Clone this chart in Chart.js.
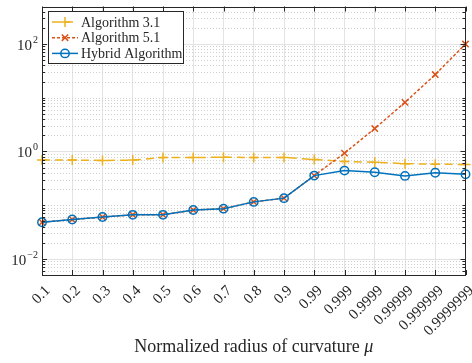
<!DOCTYPE html>
<html>
<head>
<meta charset="utf-8">
<script src="https://cdn.jsdelivr.net/npm/chart.js@4"></script>
<style>
  html, body { margin: 0; padding: 0; background: #fff; }
  #wrap { width: 472px; height: 363px; }
</style>
</head>
<body>
<div id="wrap"><canvas id="chart"></canvas></div>
<script>
const radii = ['0.1', '0.2', '0.3', '0.4', '0.5', '0.6', '0.7', '0.8', '0.9',
  '0.99', '0.999', '0.9999', '0.99999', '0.999999', '0.9999999'];
const alg31 = [0.69, 0.69, 0.68, 0.69, 0.77, 0.77, 0.78, 0.77, 0.77, 0.71, 0.65, 0.63, 0.59, 0.58, 0.57];
const alg51 = [0.048, 0.054, 0.060, 0.066, 0.066, 0.081, 0.086, 0.115, 0.135, 0.355, 0.93, 2.67, 8.2, 27, 100];
const hybrid = [0.048, 0.054, 0.060, 0.066, 0.066, 0.081, 0.086, 0.115, 0.135, 0.355, 0.44, 0.41, 0.35, 0.40, 0.375];
const yMajor = [1e-2, 1e0, 1e2];
const yMin = 0.005;
const yMax = 500;

const AX = '#262626';
const SERIF = '"Liberation Serif", "DejaVu Serif", serif';

// box, inward ticks, minor log grid, y labels, x title and legend
const matlabAxes = {
  id: 'matlabAxes',
  beforeDatasetsDraw(chart) {
    const { ctx, chartArea: a, scales: { y } } = chart;
    ctx.save();
    ctx.lineWidth = 1;
    for (let e = -3; e <= 2; e++) {
      for (let k = 1; k <= 9; k++) {
        const v = k * Math.pow(10, e);
        if (v < yMin || v > yMax) continue;
        const py = Math.round(y.getPixelForValue(v)) + 0.5;
        const major = yMajor.some(m => Math.abs(m - v) / m < 1e-9);
        ctx.strokeStyle = major ? '#e3e3e3' : '#cfcfcf';
        ctx.setLineDash(major ? [] : [1, 2]);
        ctx.beginPath();
        ctx.moveTo(a.left, py);
        ctx.lineTo(a.right, py);
        ctx.stroke();
      }
    }
    ctx.restore();
  },
  afterDraw(chart) {
    const { ctx, chartArea: a, scales: { x, y } } = chart;
    ctx.save();
    ctx.strokeStyle = AX;
    ctx.lineWidth = 1;
    ctx.setLineDash([]);
    ctx.strokeRect(Math.round(a.left) + 0.5, Math.round(a.top) + 0.5,
      Math.round(a.right - a.left) - 1, Math.round(a.bottom - a.top) - 1);

    // x ticks, top and bottom
    ctx.beginPath();
    radii.forEach((_, i) => {
      const px = Math.round(x.getPixelForValue(i)) + 0.5;
      ctx.moveTo(px, a.bottom); ctx.lineTo(px, a.bottom - 5);
      ctx.moveTo(px, a.top); ctx.lineTo(px, a.top + 5);
    });
    // y ticks, left and right
    for (let e = -3; e <= 2; e++) {
      for (let k = 1; k <= 9; k++) {
        const v = k * Math.pow(10, e);
        if (v < yMin || v > yMax) continue;
        const py = Math.round(y.getPixelForValue(v)) + 0.5;
        const len = yMajor.some(m => Math.abs(m - v) / m < 1e-9) ? 5 : 3;
        ctx.moveTo(a.left, py); ctx.lineTo(a.left + len, py);
        ctx.moveTo(a.right, py); ctx.lineTo(a.right - len, py);
      }
    }
    ctx.stroke();

    // y labels as 10^n
    ctx.fillStyle = AX;
    ctx.textBaseline = 'alphabetic';
    yMajor.forEach(v => {
      const py = y.getPixelForValue(v);
      const ex = String(Math.round(Math.log10(v))).replace('-', '\u2212');
      ctx.font = '10px ' + SERIF;
      const ew = ctx.measureText(ex).width;
      const right = a.left - 4;
      ctx.textAlign = 'right';
      ctx.fillText(ex, right, py - 1);
      ctx.font = '15px ' + SERIF;
      ctx.fillText('10', right - ew - 1, py + 6);
    });

    // x axis title with italic mu
    const ty = 352;
    ctx.font = '18px ' + SERIF;
    const t1 = 'Normalized radius of curvature ';
    const w1 = ctx.measureText(t1).width;
    ctx.font = 'italic 18px ' + SERIF;
    const w2 = ctx.measureText('\u03bc').width;
    const tx = (a.left + a.right) / 2 - (w1 + w2) / 2;
    ctx.textAlign = 'left';
    ctx.font = '18px ' + SERIF;
    ctx.fillText(t1, tx, ty);
    ctx.font = 'italic 18px ' + SERIF;
    ctx.fillText('\u03bc', tx + w1, ty);

    // legend
    const lx = 48, ly = 11, lw = 135, lh = 52;
    ctx.fillStyle = '#fff';
    ctx.fillRect(lx, ly, lw, lh);
    ctx.strokeStyle = AX;
    ctx.strokeRect(lx + 0.5, ly + 0.5, lw, lh);
    [0, 1, 2].forEach(r => {
      const ds = chart.data.datasets[r];
      const cy = ly + 11 + r * 15.7;
      ctx.strokeStyle = ds.borderColor;
      ctx.lineWidth = ds.borderWidth;
      ctx.setLineDash(ds.borderDash || []);
      ctx.beginPath();
      ctx.moveTo(lx + 4, cy); ctx.lineTo(lx + 30, cy);
      ctx.stroke();
      ctx.setLineDash([]);
      ctx.fillStyle = 'rgba(0,0,0,0)';
      ctx.strokeStyle = ds.pointBorderColor;
      Chart.helpers.drawPoint(ctx, {
        pointStyle: ds.pointStyle, radius: ds.pointRadius, rotation: 0,
        borderWidth: ds.pointBorderWidth
      }, lx + 17, cy);
      ctx.fillStyle = AX;
      ctx.font = '14px ' + SERIF;
      ctx.textAlign = 'left';
      ctx.textBaseline = 'middle';
      ctx.fillText(ds.label, lx + 33, cy + 1);
    });
    ctx.restore();
  }
};

new Chart(document.getElementById('chart'), {
  type: 'line',
  data: {
    labels: radii,
    datasets: [
      {
        label: 'Algorithm 3.1', data: alg31, order: 3,
        borderColor: '#EDB120', borderWidth: 1.5, borderDash: [8, 5],
        pointStyle: 'cross', pointRadius: 5, pointBorderWidth: 1.5,
        pointBackgroundColor: 'transparent', pointBorderColor: '#EDB120'
      },
      {
        label: 'Algorithm 5.1', data: alg51, order: 2,
        borderColor: '#D95319', borderWidth: 1.5, borderDash: [3, 2],
        pointStyle: 'crossRot', pointRadius: 4.5, pointBorderWidth: 1.5,
        pointBackgroundColor: 'transparent', pointBorderColor: '#D95319'
      },
      {
        label: 'Hybrid Algorithm', data: hybrid, order: 1,
        borderColor: '#0072BD', borderWidth: 1.5,
        pointStyle: 'circle', pointRadius: 4.2, pointBorderWidth: 1.5,
        pointBackgroundColor: 'transparent', pointBorderColor: '#0072BD'
      }
    ]
  },
  options: {
    responsive: true,
    maintainAspectRatio: false,
    animation: false,
    layout: { padding: { top: 5, right: 3, left: 0, bottom: 0 } },
    plugins: { legend: { display: false }, tooltip: { enabled: false } },
    elements: { line: { tension: 0 } },
    scales: {
      x: {
        type: 'category',
        offset: false,
        grid: { color: '#e3e3e3', drawTicks: false },
        border: { display: false },
        ticks: {
          color: AX, font: { family: SERIF, size: 15 },
          minRotation: 45, maxRotation: 45, padding: 7, labelOffset: 6,
          autoSkip: false
        },
        afterFit(s) { s.height = 88; s.paddingLeft = 0; s.paddingRight = 0; }
      },
      y: {
        type: 'logarithmic',
        min: yMin, max: yMax,
        grid: { display: false },
        border: { display: false },
        ticks: { display: false },
        afterBuildTicks(s) { s.ticks = yMajor.map(v => ({ value: v })); },
        afterFit(s) { s.width = 42; }
      }
    }
  },
  plugins: [matlabAxes]
});
</script>
</body>
</html>
